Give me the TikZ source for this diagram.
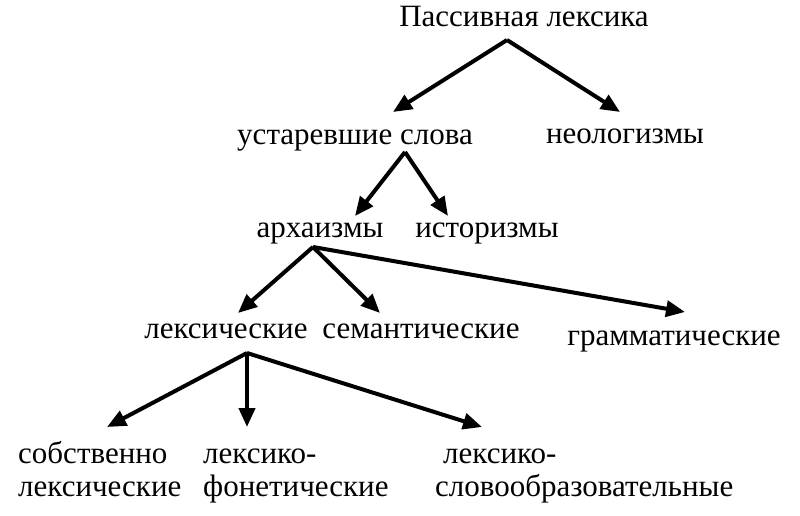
\documentclass[tikz,border=0pt]{standalone}
\usepackage{fontspec}
\setmainfont{Liberation Serif}
\newfontfamily\timesru{Liberation Serif}
\usetikzlibrary{arrows.meta}
\tikzstyle{term} = [inner sep=0pt, anchor=base, font=\timesru\fontsize{31}{33}\selectfont]
\tikzstyle{leaf} = [inner sep=0pt, anchor=base west, align=left, font=\timesru\fontsize{31}{33}\selectfont]
\tikzstyle{arrow} = [line width=4pt, -{Triangle[length=19pt,width=16pt]}]

\begin{document}
\begin{tikzpicture}[x=1pt,y=-1pt]
\useasboundingbox (0,0) rectangle (800,516);

\node (passive) [term] at (524,27) {Пассивная лексика};

\node (obsolete) [term] at (355,145) {устаревшие слова};
\node (neolog) [term] at (625,143) {неологизмы};

\node (archaism) [term] at (320,237) {архаизмы};
\node (historism) [term] at (487,237) {историзмы};

\node (lexical) [term] at (226,338) {лексические};
\node (semantic) [term] at (421,338) {семантические};
\node (grammar) [term] at (674,345) {грамматические};

% base of a two-line node is its last line
\node (proper) [leaf] at (18,496) {собственно\\лексические};
\node (phonetic) [leaf] at (203,496) {лексико-\\фонетические};
\node (wordform) [leaf] at (435,496) {\hspace*{8pt}лексико-\\словообразовательные};


\draw [arrow] ([shift={(-17,13)}]passive.base) -- ([shift={(38,-33)}]obsolete.base);
\draw [arrow] ([shift={(-17,13)}]passive.base) -- ([shift={(-5,-31)}]neolog.base);

\draw [arrow] ([shift={(50,7)}]obsolete.base) -- ([shift={(35,-21)}]archaism.base);
\draw [arrow] ([shift={(50,7)}]obsolete.base) -- ([shift={(-39,-21)}]historism.base);

\draw [arrow] ([shift={(-7,10)}]archaism.base) -- ([shift={(12,-25)}]lexical.base);
\draw [arrow] ([shift={(-7,10)}]archaism.base) -- ([shift={(-41,-25)}]semantic.base);
\draw [arrow] ([shift={(-7,10)}]archaism.base) -- ([shift={(11,-33)}]grammar.base);

\draw [arrow] ([shift={(21,15)}]lexical.base) -- ([shift={(89,-69)}]proper.base west);
\draw [arrow] ([shift={(21,15)}]lexical.base) -- ([shift={(44,-69)}]phonetic.base west);
\draw [arrow] ([shift={(21,15)}]lexical.base) -- ([shift={(47,-69)}]wordform.base west);

\end{tikzpicture}
\end{document}
